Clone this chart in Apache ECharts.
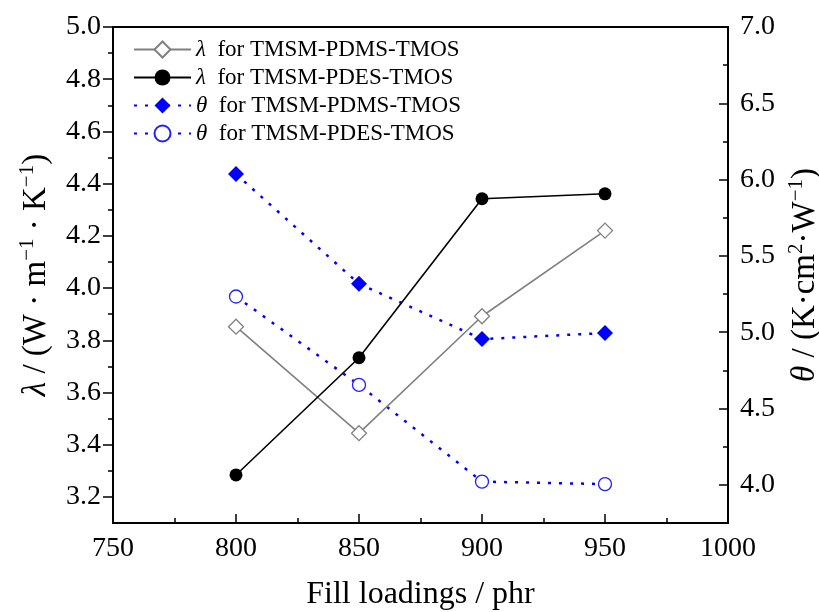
<!DOCTYPE html>
<html><head><meta charset="utf-8">
<script src="https://cdn.jsdelivr.net/npm/echarts@6/dist/echarts.min.js"></script>
<style>html,body{margin:0;padding:0;background:#fff}#c{width:819px;height:612px}</style>
</head><body><div id="c"></div>
<script>
// ---- data ----
const fillLoadings = [800, 850, 900, 950];
const lambdaPDMS = [3.852, 3.444, 3.892, 4.22];
const lambdaPDES = [3.284, 3.733, 4.342, 4.361];
const thetaPDMS = [6.036, 5.317, 4.955, 4.995];
const thetaPDES = [5.234, 4.655, 4.021, 4.005];
const seriesNames = ['λ for TMSM-PDMS-TMOS', 'λ for TMSM-PDES-TMOS', 'θ for TMSM-PDMS-TMOS', 'θ for TMSM-PDES-TMOS'];
const leftTicks = [3.2, 3.4, 3.6, 3.8, 4.0, 4.2, 4.4, 4.6, 4.8, 5.0];
const leftMinorTicks = [3.3, 3.5, 3.7, 3.9, 4.1, 4.3, 4.5, 4.7, 4.9];
const rightTicks = [4.0, 4.5, 5.0, 5.5, 6.0, 6.5, 7.0];
const rightMinorTicks = [4.25, 4.75, 5.25, 5.75, 6.25, 6.75];

const FONT = 'Liberation Serif';
const pairs = arr => fillLoadings.map((x, i) => [x, arr[i]]);
const axisLine = { show: true, lineStyle: { color: '#000', width: 2 } };
const fmt1 = v => Number(v).toFixed(1);

const chart = echarts.init(document.getElementById('c'), null, { renderer: 'canvas' });
const nameRich = {
  i: { fontFamily: FONT, fontStyle: 'italic', fontSize: 33, color: '#000', lineHeight: 38 },
  t: { fontFamily: FONT, fontSize: 33, color: '#000', lineHeight: 38 },
  s: { fontFamily: FONT, fontSize: 21, color: '#000', lineHeight: 20, verticalAlign: 'top' }
};
chart.setOption({
  animation: false,
  backgroundColor: '#fff',
  grid: { left: 113, right: 91, top: 27, bottom: 89, show: true, borderColor: '#000', borderWidth: 2, containLabel: false, outerBoundsMode: 'none' },
  legend: {
    orient: 'vertical', left: 128, top: 33, itemGap: 5, itemWidth: 57, itemHeight: 20,
    data: seriesNames,
    formatter: n => '{i|' + n[0] + '}{t| ' + n.slice(1) + '}',
    textStyle: {
      rich: {
        i: { fontFamily: FONT, fontStyle: 'italic', fontSize: 23, color: '#000' },
        t: { fontFamily: FONT, fontSize: 23, color: '#000' }
      }
    }
  },
  xAxis: {
    type: 'value', min: 750, max: 1000, interval: 50,
    axisLine: axisLine,
    axisTick: { show: true, inside: true, length: 9, lineStyle: { color: '#000', width: 1.5 } },
    minorTick: { show: true, splitNumber: 2, length: 5, lineStyle: { color: '#000', width: 1.5 } },
    axisLabel: { fontFamily: FONT, fontSize: 28, color: '#000', margin: 12, showMinLabel: true, showMaxLabel: true, formatter: v => String(v) },
    splitLine: { show: false },
    name: 'Fill loadings / phr', nameLocation: 'middle', nameGap: 56,
    nameTextStyle: { fontFamily: FONT, fontSize: 32, color: '#000' }
  },
  yAxis: [
    {
      type: 'value', position: 'left', min: 3.1, max: 5.0,
      axisLine: axisLine,
      axisTick: { show: true, inside: false, length: 10, customValues: leftTicks, lineStyle: { color: '#000', width: 1.5 } },
      axisLabel: { customValues: leftTicks, formatter: fmt1, fontFamily: FONT, fontSize: 28, color: '#000', margin: 12 },
      splitLine: { show: false },
      name: '{i|λ}{t| / (W · m}{s|−1}{t| · K}{s|−1}{t|)}',
      nameLocation: 'middle', nameGap: 58, nameRotate: 90,
      nameTextStyle: { rich: nameRich }
    },
    {
      type: 'value', position: 'left', min: 3.1, max: 5.0,
      axisLine: { show: false },
      axisTick: { show: true, inside: false, length: 5, customValues: leftMinorTicks, lineStyle: { color: '#000', width: 1.5 } },
      axisLabel: { show: false },
      splitLine: { show: false }
    },
    {
      type: 'value', position: 'right', min: 3.75, max: 7.0,
      axisLine: axisLine,
      axisTick: { show: true, inside: true, length: 9, customValues: rightTicks, lineStyle: { color: '#000', width: 1.5 } },
      axisLabel: { customValues: rightTicks, formatter: fmt1, fontFamily: FONT, fontSize: 28, color: '#000', margin: 12 },
      splitLine: { show: false },
      name: '{i|θ}{t| / (K·cm}{s|2}{t|·W}{s|−1}{t|)}',
      nameLocation: 'middle', nameGap: 55, nameRotate: 90,
      nameTextStyle: { rich: nameRich }
    },
    {
      type: 'value', position: 'right', min: 3.75, max: 7.0,
      axisLine: { show: false },
      axisTick: { show: true, inside: true, length: 5, customValues: rightMinorTicks, lineStyle: { color: '#000', width: 1.5 } },
      axisLabel: { show: false },
      splitLine: { show: false }
    }
  ],
  series: [
    {
      name: seriesNames[0], type: 'line', yAxisIndex: 0, data: pairs(lambdaPDMS),
      symbol: 'diamond', symbolSize: 15,
      lineStyle: { color: '#808080', width: 1.6 },
      itemStyle: { color: '#fff', borderColor: '#808080', borderWidth: 1.3 }, z: 3
    },
    {
      name: seriesNames[1], type: 'line', yAxisIndex: 0, data: pairs(lambdaPDES),
      symbol: 'circle', symbolSize: 13,
      lineStyle: { color: '#000', width: 1.6 },
      itemStyle: { color: '#000', borderColor: '#000', borderWidth: 0 }, z: 3
    },
    {
      name: seriesNames[2], type: 'line', yAxisIndex: 2, data: pairs(thetaPDMS),
      symbol: 'diamond', symbolSize: 16,
      lineStyle: { color: '#0000ff', width: 2.5, type: [3, 8] },
      itemStyle: { color: '#0000ff', borderColor: '#0000ff', borderWidth: 0 }, z: 2
    },
    {
      name: seriesNames[3], type: 'line', yAxisIndex: 2, data: pairs(thetaPDES),
      symbol: 'circle', symbolSize: 13,
      lineStyle: { color: '#0000ff', width: 2.5, type: [3, 8] },
      itemStyle: { color: '#fff', borderColor: '#2020ff', borderWidth: 1.3 }, z: 2
    }
  ]
});
</script></body></html>
